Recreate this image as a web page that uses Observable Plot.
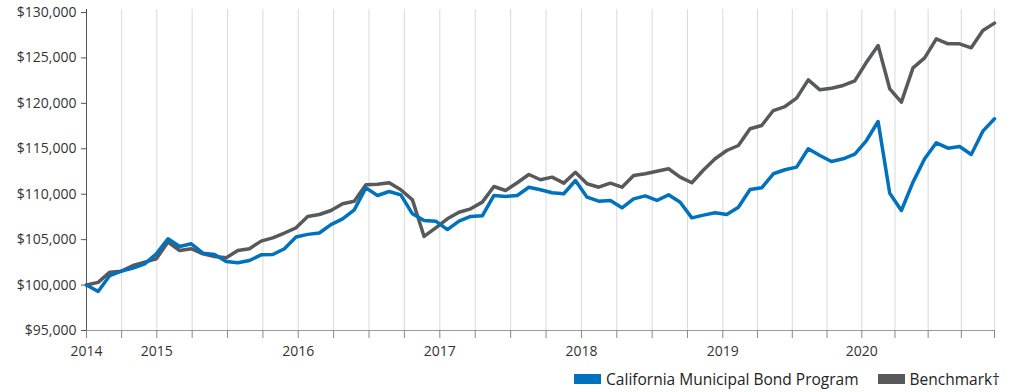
<!DOCTYPE html>
<html><head><meta charset="utf-8">
<script src="https://cdn.jsdelivr.net/npm/d3@7"></script>
<script src="https://cdn.jsdelivr.net/npm/@observablehq/plot@0.6"></script>
<style>
body{margin:0;background:#fff;font-family:"Open Sans",sans-serif;}
#legend{display:flex;justify-content:flex-end;align-items:center;height:27px;padding-right:15px;font-size:15.5px;color:#222;}
.item{display:flex;align-items:center;margin-left:19px;}
.sw{width:27px;height:10px;margin-right:5px;}
</style></head><body><div id="chart"></div><div id="legend"></div>
<script>
// Monthly values, June 2014 .. December 2020 (month-end)
const seriesNames = ["California Municipal Bond Program", "Benchmark\u2020"];
const seriesColors = ["#0071bc", "#58595b"];
const fund = [100000, 99300, 101050, 101530, 101860, 102340, 103440, 105100, 104250, 104540, 103510, 103370, 102600, 102450,
  102700, 103330, 103370, 104000, 105290, 105580, 105730, 106660, 107290, 108280, 110700, 109860, 110300,
  109930, 107840, 107110, 107030, 106110, 107030, 107550, 107620, 109860, 109750, 109860, 110770, 110490,
  110160, 110050, 111510, 109670, 109230, 109310, 108500, 109490, 109820, 109310, 109930, 109120, 107400,
  107700, 107950, 107770, 108570, 110520, 110700, 112250, 112690, 112980, 115000, 114260, 113600, 113900,
  114400, 115910, 118000, 110110, 108210, 111330, 113900, 115660, 115070, 115250, 114370, 116940, 118300];
const benchmark = [100000, 100300, 101420, 101530, 102160, 102520, 102890, 104730, 103810, 104000, 103440, 103150, 103000, 103810,
  104000, 104840, 105200, 105730, 106300, 107550, 107770, 108210, 108950, 109230, 111040, 111100, 111260,
  110490, 109380, 105350, 106300, 107290, 108020, 108390, 109130, 110850, 110410, 111260, 112170, 111590,
  111880, 111220, 112420, 111150, 110770, 111220, 110770, 112060, 112250, 112530, 112800, 111880, 111260,
  112660, 113900, 114810, 115360, 117200, 117560, 119210, 119650, 120570, 122590, 121490, 121670, 121970,
  122480, 124530, 126370, 121600, 120130, 123910, 125010, 127100, 126550, 126550, 126110, 128020, 128830];
const yTicks = [95000, 100000, 105000, 110000, 115000, 120000, 125000, 130000];
const yearLabels = ["2014", "2015", "2016", "2017", "2018", "2019", "2020"];
// where each year label sits, in months from the first point
const yearTickAt = [0, 6.04, 18.19, 30.35, 42.52, 54.66, 66.6];
const lastIndex = fund.length - 1;

const rows = fund.map((v, i) => ({i, fund: v, bench: benchmark[i]}));

// quarterly grid: split each year span into quarters
const gridTicks = [];
const bounds = yearTickAt.concat([lastIndex]);
for (let k = 0; k < bounds.length - 1; k++) {
  const a = bounds[k], b = bounds[k + 1];
  const parts = k === 0 ? 2 : 4;
  for (let j = 0; j < parts; j++) gridTicks.push(a + (b - a) * j / parts);
}
gridTicks.push(lastIndex);
const labelMap = new Map(yearTickAt.map((t, k) => [t, yearLabels[k]]));

const chart = Plot.plot({
  width: 1015, height: 365,
  marginLeft: 86, marginRight: 21, marginTop: 12, marginBottom: 35,
  style: {fontFamily: "Open Sans", fontSize: "14px", color: "#333", background: "#fff"},
  x: {type: "linear", domain: [0, lastIndex]},
  y: {domain: [95000, 130000]},
  marks: [
    Plot.ruleX(gridTicks, {stroke: "#d9d9d9", strokeWidth: 1, insetTop: -3}),
    Plot.ruleY([95000], {stroke: "#999", strokeWidth: 1.2}),
    Plot.ruleX([0], {stroke: "#555", insetTop: -3}),
    Plot.axisY({ticks: yTicks, tickFormat: d3.format("$,"), tickSize: 5, tickPadding: 5, label: null, stroke: "#555"}),
    Plot.axisX({ticks: gridTicks, tickFormat: d => labelMap.get(d) || "", tickSize: 8, tickPadding: 8, label: null, stroke: "#888"}),
    Plot.line(rows, {x: "i", y: "bench", stroke: seriesColors[1], strokeWidth: 3.5}),
    Plot.line(rows, {x: "i", y: "fund", stroke: seriesColors[0], strokeWidth: 3.5})
  ]
});
document.getElementById("chart").appendChild(chart);

const legend = document.getElementById("legend");
seriesNames.forEach((n, k) => {
  const it = document.createElement("div");
  it.className = "item";
  it.innerHTML = `<span class="sw" style="background:${seriesColors[k]}"></span><span>${n}</span>`;
  legend.appendChild(it);
});
</script>
</body></html>
